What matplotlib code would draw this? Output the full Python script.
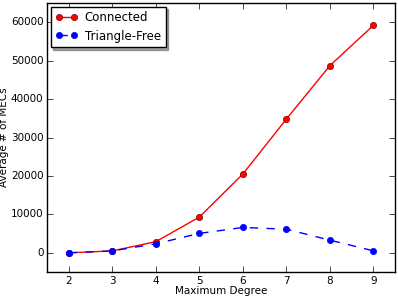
import matplotlib
matplotlib.use("Agg")
import matplotlib.pyplot as plt

# max degree vs average number of MECs
degree = [2, 3, 4, 5, 6, 7, 8, 9]
connected = [0, 500, 2900, 9300, 20500, 34800, 48700, 59200]
triangle_free = [0, 500, 2350, 5050, 6600, 6150, 3300, 520]

plt.style.use("classic")
plt.rcParams["font.size"] = 8

fig = plt.figure(figsize=(3.98, 2.97), dpi=100)
ax = fig.add_axes([0.118, 0.084, 0.875, 0.906])

ax.plot(degree, connected, "r-", marker="o", markersize=4.5,
        markeredgecolor="#800000", markeredgewidth=0.5, label="Connected")
ax.plot(degree, triangle_free, "b--", marker="o", markersize=4.5,
        markeredgecolor="b", markeredgewidth=0.5, label="Triangle-Free")

ax.set_xlim(1.5, 9.5)
ax.set_ylim(-5000, 65000)
ax.set_xticks(degree)
ax.set_yticks(range(0, 60001, 10000))
ax.tick_params(labelsize=7.5, pad=2.5)
ax.set_xlabel("Maximum Degree", fontsize=7.5, labelpad=0.5)
ax.set_ylabel("Average # of MECs", fontsize=7.5, labelpad=1)

leg = ax.legend(loc="upper left", shadow=True, fontsize=8.5, numpoints=2,
                handlelength=1.9, borderaxespad=0.3, labelspacing=0.45,
                borderpad=0.4, handletextpad=0.6)

fig.savefig("out.png", dpi=100)
